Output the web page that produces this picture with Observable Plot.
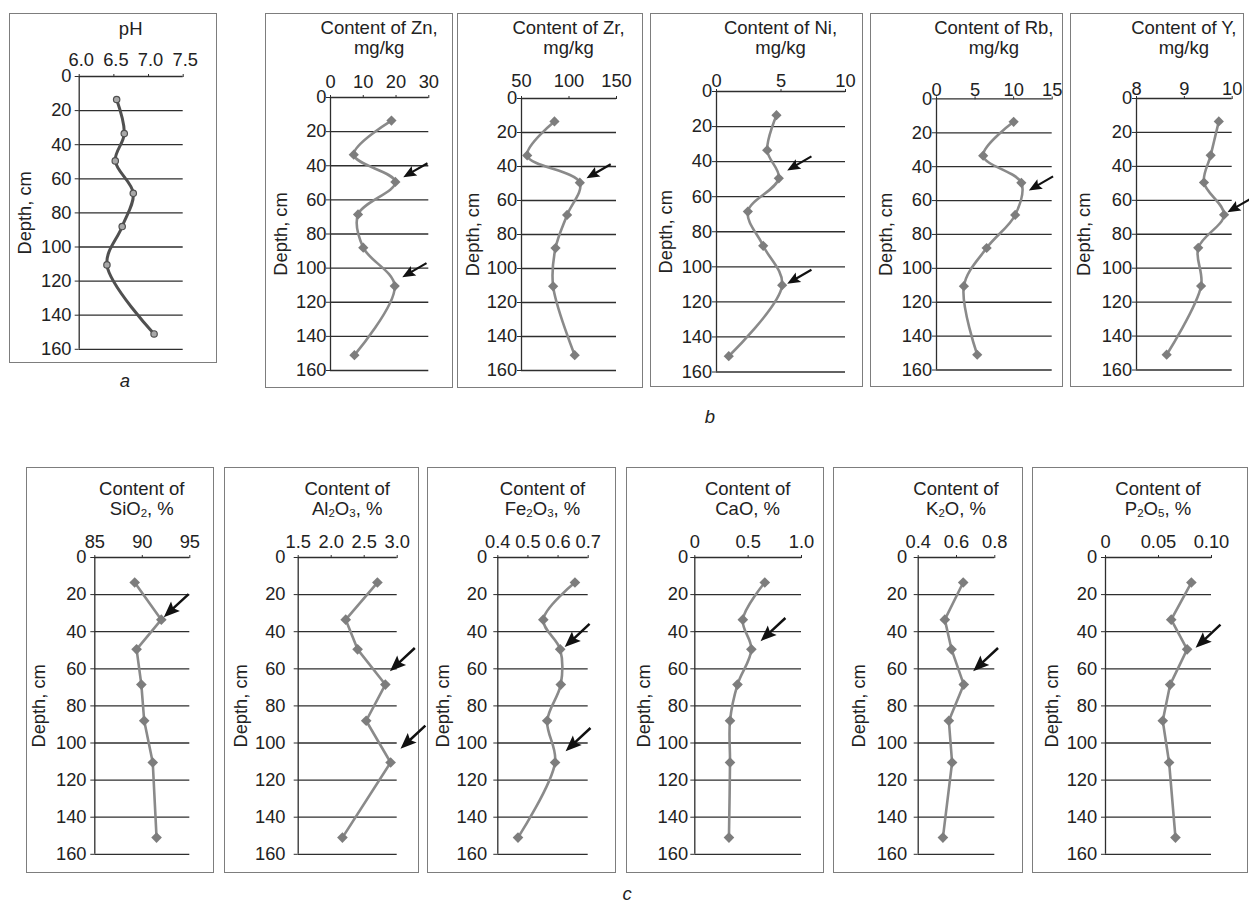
<!DOCTYPE html>
<html><head><meta charset="utf-8">
<script src="https://cdn.jsdelivr.net/npm/d3@7"></script>
<script src="https://cdn.jsdelivr.net/npm/@observablehq/plot@0.6"></script>
<style>
html,body{margin:0;padding:0;background:#fff;}
#fig{position:relative;width:1249px;height:903px;overflow:hidden;font-family:"Liberation Sans",Arial,sans-serif;color:#222;}
.box{position:absolute;box-sizing:border-box;border:1.5px solid #7d7d7d;}
.title{position:absolute;width:220px;text-align:center;font-size:18.5px;line-height:20px;white-space:nowrap;}
.title sub{font-size:11.5px;vertical-align:-2px;line-height:0;}
.letter{position:absolute;font-style:italic;font-size:18.5px;transform:translate(-50%,-50%);}
.panel{position:absolute;}
.panel svg{display:block;}
</style></head><body><div id="fig"></div>
<script>
// ---------- data ----------
const depths = [13.5, 33.5, 49.5, 68.5, 88, 110.5, 151];
const depthTicks = [0, 20, 40, 60, 80, 100, 120, 140, 160];

const pH    = [6.54, 6.65, 6.52, 6.78, 6.62, 6.40, 7.08];
const Zn    = [18.6, 7.1, 19.8, 8.4, 10.0, 19.6, 7.3];
const Zr    = [84.7, 56, 111.4, 98, 85.8, 83.3, 106];
const Ni    = [4.65, 3.93, 4.83, 2.43, 3.62, 5.09, 0.95];
const Rb    = [10.0, 6.05, 11.0, 10.2, 6.5, 3.55, 5.28];
const Yt    = [9.72, 9.55, 9.41, 9.83, 9.29, 9.35, 8.63];
const SiO2  = [89.2, 92.0, 89.4, 89.9, 90.2, 91.1, 91.5];
const Al2O3 = [2.70, 2.22, 2.40, 2.82, 2.53, 2.90, 2.17];
const Fe2O3 = [0.656, 0.551, 0.607, 0.609, 0.564, 0.590, 0.467];
const CaO   = [0.656, 0.45, 0.53, 0.40, 0.33, 0.33, 0.32];
const K2O   = [0.635, 0.539, 0.574, 0.638, 0.560, 0.577, 0.529];
const P2O5  = [0.081, 0.062, 0.077, 0.061, 0.054, 0.060, 0.066];

const pHTicks = [6.0, 6.5, 7.0, 7.5];        const pHLabels = ["6.0", "6.5", "7.0", "7.5"];
const ZnTicks = [0, 10, 20, 30];             const ZnLabels = ["0", "10", "20", "30"];
const ZrTicks = [50, 100, 150];              const ZrLabels = ["50", "100", "150"];
const NiTicks = [0, 5, 10];                  const NiLabels = ["0", "5", "10"];
const RbTicks = [0, 5, 10, 15];              const RbLabels = ["0", "5", "10", "15"];
const YTicks  = [8, 9, 10];                  const YLabels  = ["8", "9", "10"];
const SiTicks = [85, 90, 95];                const SiLabels = ["85", "90", "95"];
const AlTicks = [1.5, 2.0, 2.5, 3.0];        const AlLabels = ["1.5", "2.0", "2.5", "3.0"];
const FeTicks = [0.4, 0.5, 0.6, 0.7];        const FeLabels = ["0.4", "0.5", "0.6", "0.7"];
const CaTicks = [0, 0.5, 1.0];               const CaLabels = ["0", "0.5", "1.0"];
const KTicks  = [0.4, 0.6, 0.8];             const KLabels  = ["0.4", "0.6", "0.8"];
const PTicks  = [0, 0.05, 0.10];             const PLabels  = ["0", "0.05", "0.10"];

// arrow annotations: panel, value and depth of the arrow tip
const arrowPanels = ["Zn", "Zn", "Zr", "Ni", "Ni", "Rb", "Y", "SiO2", "Al2O3", "Al2O3", "Fe2O3", "Fe2O3", "CaO", "K2O", "P2O5"];
const arrowValues = [22.2, 21.9, 118.4, 5.48, 5.48, 11.97, 9.90, 92.26, 2.89, 3.05, 0.622, 0.625, 0.616, 0.687, 0.085];
const arrowDepths = [46.7, 105.3, 46.9, 45, 109.7, 54, 67, 32.2, 61.3, 103.1, 48.3, 104.4, 45.1, 61.3, 48.7];

// ---------- layout / style ----------
const panels = [
  {key:"pH", row:"a", title:"pH", values:pH, ticks:pHTicks, labels:pHLabels, box:[9,13,217,363], xr:[78.7,182.7], yr:[76,348.8], titleTop:19, xGap:11, xDx:2, yGap:7.7, depthX:25, curve:"catmull-rom"},
  {key:"Zn", row:"b", title:"Content of Zn,<br>mg/kg", values:Zn, ticks:ZnTicks, labels:ZnLabels, box:[265,13,453,388], xr:[330,428.3], yr:[97,370], titleTop:18, xGap:10, yGap:3.5, depthX:281, curve:"catmull-rom"},
  {key:"Zr", row:"b", title:"Content of Zr,<br>mg/kg", values:Zr, ticks:ZrTicks, labels:ZrLabels, box:[457,13,643,388], xr:[521,616], yr:[98,370], titleTop:18, xGap:12, yGap:4.3, depthX:472.5, curve:"catmull-rom"},
  {key:"Ni", row:"b", title:"Content of Ni,<br>mg/kg", values:Ni, ticks:NiTicks, labels:NiLabels, box:[650,13,863,387], xr:[716,845], yr:[91,371.5], titleTop:17.5, xGap:5, yGap:4.3, depthX:666, curve:"catmull-rom"},
  {key:"Rb", row:"b", title:"Content of Rb,<br>mg/kg", values:Rb, ticks:RbTicks, labels:RbLabels, box:[870,13,1063,387], xr:[936,1051.7], yr:[98.4,369.5], titleTop:18, xGap:3.4, yGap:4.3, depthX:885.8, curve:"catmull-rom"},
  {key:"Y", row:"b", title:"Content of Y,<br>mg/kg", values:Yt, ticks:YTicks, labels:YLabels, box:[1070,13,1244,387], xr:[1136,1231.7], yr:[98,369.5], titleTop:18, xGap:3.2, yGap:4.3, depthX:1083.8, curve:"catmull-rom"},
  {key:"SiO2", row:"c", title:"Content of<br>SiO<sub>2</sub>, %", values:SiO2, ticks:SiTicks, labels:SiLabels, box:[26,467,214,873], xr:[94.3,189.3], yr:[557,853.8], titleTop:479, xGap:10, yGap:8.3, depthX:39, curve:"linear"},
  {key:"Al2O3", row:"c", title:"Content of<br>Al<sub>2</sub>O<sub>3</sub>, %", values:Al2O3, ticks:AlTicks, labels:AlLabels, box:[224,467,419,873], xr:[297.7,396.7], yr:[557,853.8], titleTop:479, xGap:10, yGap:12.7, depthX:240.5, curve:"linear"},
  {key:"Fe2O3", row:"c", title:"Content of<br>Fe<sub>2</sub>O<sub>3</sub>, %", values:Fe2O3, ticks:FeTicks, labels:FeLabels, box:[427,467,616,873], xr:[497.3,587.7], yr:[557,853.8], titleTop:479, xGap:10, yGap:10.7, depthX:442.5, curve:"catmull-rom"},
  {key:"CaO", row:"c", title:"Content of<br>CaO, %", values:CaO, ticks:CaTicks, labels:CaLabels, box:[626,467,824,873], xr:[694.3,801], yr:[557,853.8], titleTop:479, xGap:10, yGap:6.7, depthX:644, curve:"catmull-rom"},
  {key:"K2O", row:"c", title:"Content of<br>K<sub>2</sub>O, %", values:K2O, ticks:KTicks, labels:KLabels, box:[833,467,1023,873], xr:[917.7,994.3], yr:[557,853.8], titleTop:479, xGap:10, yGap:11, depthX:858.7, curve:"linear"},
  {key:"P2O5", row:"c", title:"Content of<br>P<sub>2</sub>O<sub>5</sub>, %", values:P2O5, ticks:PTicks, labels:PLabels, box:[1032,467,1248,873], xr:[1105,1211], yr:[557,853.8], titleTop:479, xGap:10, yGap:8.3, depthX:1051.7, curve:"linear"}
];

function arrowSymbol(L, H, W, T) {
  return {draw(ctx) {
    ctx.moveTo(0, 0);
    ctx.lineTo(H, -W / 2);
    ctx.lineTo(H * 0.85, -T / 2);
    ctx.lineTo(L, -T / 2);
    ctx.lineTo(L, T / 2);
    ctx.lineTo(H * 0.85, T / 2);
    ctx.lineTo(H, W / 2);
    ctx.closePath();
  }};
}

const rowStyles = {
  a: {line:"#505050", lw:3, symbol:"circle", r:3.2, fill:"#a8a8a8", stroke:"#505050", sw:1.2, arrow:arrowSymbol(28,13,11,2.2), angle:-30},
  b: {line:"#8a8a8a", lw:2.6, symbol:"diamond2", r:4.6, fill:"#7d7d7d", stroke:"none", sw:0, arrow:arrowSymbol(28,13,11,2.2), angle:-30},
  c: {line:"#8a8a8a", lw:2.6, symbol:"diamond2", r:4.8, fill:"#7d7d7d", stroke:"none", sw:0, arrow:arrowSymbol(34,16,13,2.5), angle:-43}
};

const gridColor = "#2e2e2e";
const FS = 18.3;
const fig = document.getElementById("fig");

function addDiv(cls, css, html) {
  const d = document.createElement("div");
  d.className = cls;
  Object.assign(d.style, css);
  if (html != null) d.innerHTML = html;
  fig.appendChild(d);
  return d;
}

for (const p of panels) {
  const [bl, bt, br, bb] = p.box;
  const W = br - bl, H = bb - bt;
  const dom = [p.ticks[0], p.ticks[p.ticks.length - 1]];
  const rows = depths.map((d, i) => ({depth: d, value: p.values[i]}));
  const arr = arrowPanels.map((k, i) => ({k, value: arrowValues[i], depth: arrowDepths[i]})).filter(a => a.k === p.key);
  const lab = new Map(p.ticks.map((t, i) => [t, p.labels[i]]));
  const st = rowStyles[p.row];

  addDiv("box", {left: bl + "px", top: bt + "px", width: W + "px", height: H + "px"});

  const svg = Plot.plot({
    width: W, height: H,
    marginLeft: p.xr[0] - bl, marginRight: br - p.xr[1],
    marginTop: p.yr[0] - bt, marginBottom: bb - p.yr[1],
    x: {domain: dom},
    y: {domain: [0, 160], reverse: true},
    style: {background: "transparent", overflow: "visible", fontFamily: "'Liberation Sans', Arial, sans-serif", color: "#222"},
    marks: [
      Plot.ruleY(depthTicks, {x1: dom[0], x2: dom[1], stroke: gridColor, strokeWidth: 1.3}),
      Plot.ruleX([dom[0]], {y1: 0, y2: 160, stroke: gridColor, strokeWidth: 1.3}),
      Plot.axisX(p.ticks, {anchor: "top", tickSize: 3, tickPadding: p.xGap - 3, tickFormat: d => lab.get(d), fontSize: FS, label: null, stroke: gridColor, text: null}),
      Plot.axisX(p.ticks, {anchor: "top", tickSize: 0, tickPadding: p.xGap, tickFormat: d => lab.get(d), fontSize: FS, label: null, dx: p.xDx || 0}),
      Plot.axisY(depthTicks, {anchor: "left", tickSize: 4, tickPadding: Math.max(0, p.yGap - 4), fontSize: FS, label: null, stroke: gridColor}),
      Plot.text(["Depth, cm"], {text: d => d, frameAnchor: "left", rotate: -90, dx: p.depthX - p.xr[0], fontSize: FS, textAnchor: "middle", lineAnchor: "middle", fill: "#222"}),
      Plot.line(rows, {x: "value", y: "depth", curve: p.curve, stroke: st.line, strokeWidth: st.lw}),
      Plot.dot(rows, {x: "value", y: "depth", symbol: st.symbol, r: st.r, fill: st.fill, stroke: st.stroke, strokeWidth: st.sw}),
      Plot.dot(arr, {x: "value", y: "depth", symbol: st.arrow, rotate: st.angle, r: 5, fill: "#111", stroke: "none"})
    ]
  });
  const holder = addDiv("panel", {left: bl + "px", top: bt + "px", width: W + "px", height: H + "px"});
  holder.appendChild(svg);

  const cx = (p.xr[0] + p.xr[1]) / 2;
  addDiv("title", {left: (cx - 110) + "px", top: p.titleTop + "px"}, p.title);
}

addDiv("letter", {left: "125px", top: "381px"}, "a");
addDiv("letter", {left: "710px", top: "417px"}, "b");
addDiv("letter", {left: "627px", top: "894px"}, "c");
</script>
</body></html>
